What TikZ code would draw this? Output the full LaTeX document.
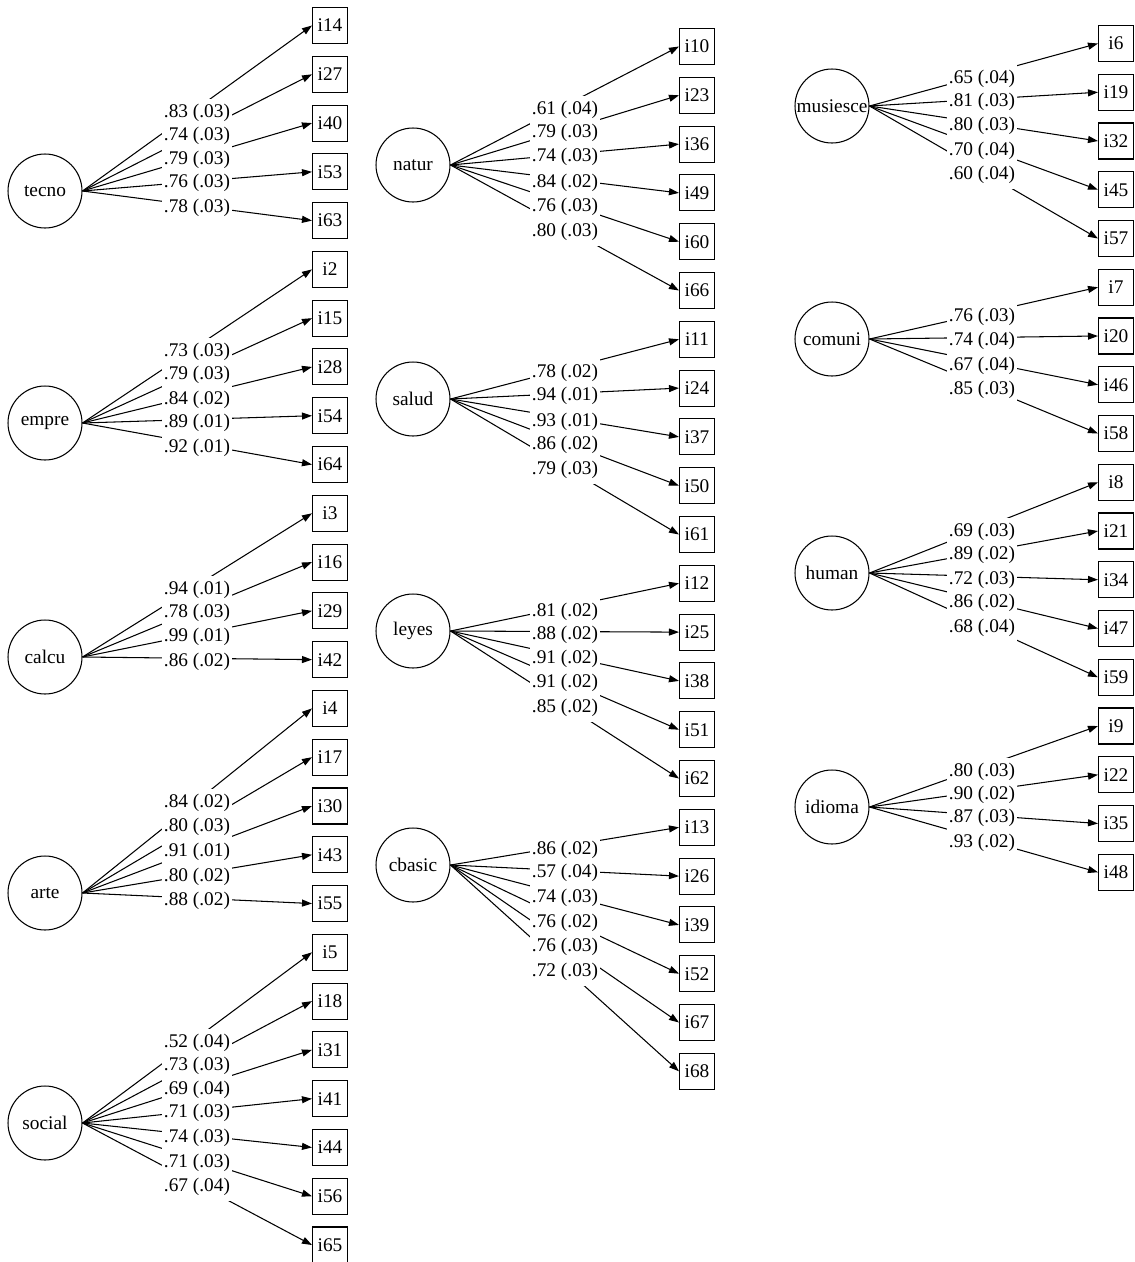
\documentclass[tikz,border=0pt]{standalone}
\usepackage{fontspec}
\setmainfont{Liberation Serif}
\usetikzlibrary{arrows.meta, backgrounds}

\begin{document}
\begin{tikzpicture}[x=0.02cm, y=-0.02cm,
    latente/.style={circle, draw, line width=0.6pt, minimum size=1.48cm,
                    inner sep=0pt, font=\fontsize{11}{13}\selectfont},
    indic/.style={rectangle, draw, line width=0.6pt, minimum width=0.7cm,
                  minimum height=0.72cm, inner sep=0pt,
                  font=\fontsize{11}{13}\selectfont},
    poids/.style={fill=white, inner xsep=1pt, inner ysep=2.9pt,
                  text height=7.3pt, text depth=2.3pt,
                  font=\fontsize{11}{13}\selectfont},
    fleche/.style={-{Triangle[length=0.2cm, width=0.14cm]}, line width=0.6pt}]

  \useasboundingbox (0,0) rectangle (1135,1262);

  % Facteurs latents
  \foreach \nom/\x/\y in {tecno/45/191, empre/45/423, calcu/45/657,
                          arte/45/893, social/45/1123,
                          natur/413/165, salud/413/399, leyes/413/631,
                          cbasic/413/865,
                          musiesce/832/106, comuni/832/339, human/832/573,
                          idioma/832/807} {
    \node[latente] (\nom) at (\x,\y) {\nom};
  }

  % Items observes (colonne de gauche)
  \foreach \obs [count=\k from 0] in {i14,i27,i40,i53,i63, i2,i15,i28,i54,i64,
                                      i3,i16,i29,i42, i4,i17,i30,i43,i55,
                                      i5,i18,i31,i41,i44,i56,i65} {
    \node[indic] (\obs) at (330, 25.5+48.78*\k) {\obs};
  }
  % Items observes (colonne du milieu)
  \foreach \obs [count=\k from 0] in {i10,i23,i36,i49,i60,i66, i11,i24,i37,i50,i61,
                                      i12,i25,i38,i51,i62, i13,i26,i39,i52,i67,i68} {
    \node[indic] (\obs) at (697, 46.5+48.8*\k) {\obs};
  }
  % Items observes (colonne de droite)
  \foreach \obs [count=\k from 0] in {i6,i19,i32,i45,i57, i7,i20,i46,i58,
                                      i8,i21,i34,i47,i59, i9,i22,i35,i48} {
    \node[indic] (\obs) at (1116, 43.5+48.75*\k) {\obs};
  }

  % Saturations, colonne de gauche
  \foreach \lat/\obs/\y/\val in {
      tecno/i14/113/.83 (.03), tecno/i27/136/.74 (.03), tecno/i40/160/.79 (.03),
      tecno/i53/183/.76 (.03), tecno/i63/208/.78 (.03),
      empre/i2/352/.73 (.03), empre/i15/375/.79 (.03), empre/i28/400/.84 (.02),
      empre/i54/423/.89 (.01), empre/i64/448/.92 (.01),
      calcu/i3/590/.94 (.01), calcu/i16/613/.78 (.03), calcu/i29/637/.99 (.01),
      calcu/i42/662/.86 (.02),
      arte/i4/803/.84 (.02), arte/i17/827/.80 (.03), arte/i30/852/.91 (.01),
      arte/i43/877/.80 (.02), arte/i55/901/.88 (.02),
      social/i5/1043/.52 (.04), social/i18/1066/.73 (.03), social/i31/1090/.69 (.04),
      social/i41/1113/.71 (.03), social/i44/1138/.74 (.03), social/i56/1163/.71 (.03),
      social/i65/1187/.67 (.04)} {
    \begin{scope}[on background layer]
      \draw[fleche] (\lat.east) -- (\obs.west);
    \end{scope}
    \node[poids] (w\obs) at (197,\y) {\val};
  }

  % Saturations, colonne du milieu
  \foreach \lat/\obs/\y/\val in {
      natur/i10/110/.61 (.04), natur/i23/133/.79 (.03), natur/i36/157/.74 (.03),
      natur/i49/183/.84 (.02), natur/i60/207/.76 (.03), natur/i66/232/.80 (.03),
      salud/i11/373/.78 (.02), salud/i24/396/.94 (.01), salud/i37/422/.93 (.01),
      salud/i50/445/.86 (.02), salud/i61/470/.79 (.03),
      leyes/i12/612/.81 (.02), leyes/i25/635/.88 (.02), leyes/i38/659/.91 (.02),
      leyes/i51/683/.91 (.02), leyes/i62/708/.85 (.02),
      cbasic/i13/850/.86 (.02), cbasic/i26/873/.57 (.04), cbasic/i39/898/.74 (.03),
      cbasic/i52/923/.76 (.02), cbasic/i67/947/.76 (.03), cbasic/i68/972/.72 (.03)} {
    \begin{scope}[on background layer]
      \draw[fleche] (\lat.east) -- (\obs.west);
    \end{scope}
    \node[poids] (w\obs) at (565,\y) {\val};
  }

  % Saturations, colonne de droite
  \foreach \lat/\obs/\y/\val in {
      musiesce/i6/79/.65 (.04), musiesce/i19/102/.81 (.03), musiesce/i32/126/.80 (.03),
      musiesce/i45/151/.70 (.04), musiesce/i57/175/.60 (.04),
      comuni/i7/317/.76 (.03), comuni/i20/341/.74 (.04), comuni/i46/366/.67 (.04),
      comuni/i58/390/.85 (.03),
      human/i8/532/.69 (.03), human/i21/555/.89 (.02), human/i34/580/.72 (.03),
      human/i47/603/.86 (.02), human/i59/628/.68 (.04),
      idioma/i9/772/.80 (.03), idioma/i22/795/.90 (.02), idioma/i35/818/.87 (.03),
      idioma/i48/843/.93 (.02)} {
    \begin{scope}[on background layer]
      \draw[fleche] (\lat.east) -- (\obs.west);
    \end{scope}
    \node[poids] (w\obs) at (982,\y) {\val};
  }

\end{tikzpicture}
\end{document}
